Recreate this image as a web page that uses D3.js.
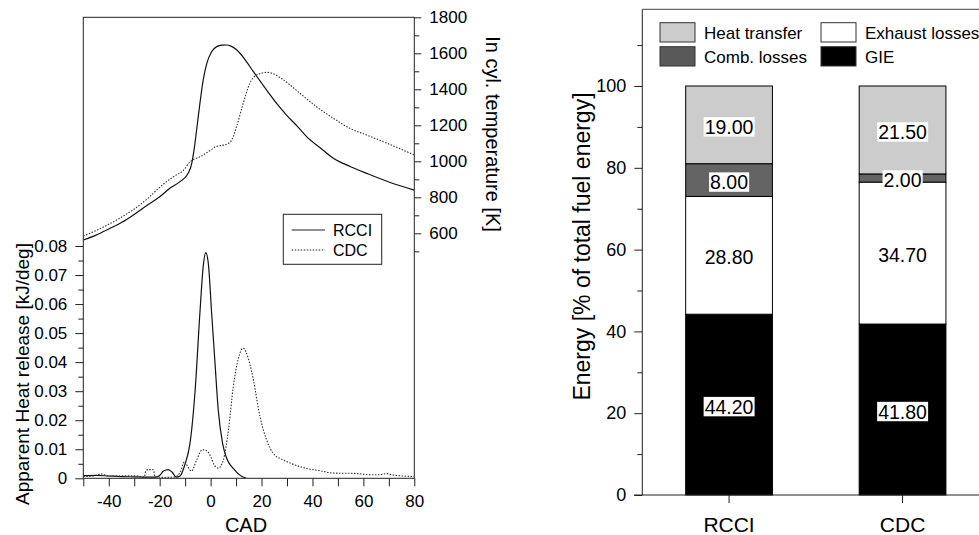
<!DOCTYPE html>
<html>
<head>
<meta charset="utf-8">
<script src="https://cdn.jsdelivr.net/npm/d3@7"></script>
<style>
  body { margin: 0; background: #fff; }
  svg { display: block; font-family: "Liberation Sans", Arial, sans-serif; }
</style>
</head>
<body>
<svg id="chart" width="979" height="535"></svg>
<script>
// ---- left panel data: [CAD, value] ----
var rcciTemp = [[-50,563],[-45,590],[-40,624],[-35,660],[-30,705],[-25,755],[-20,803],[-16,850],[-12,887],
  [-8.8,933],[-7.4,989],[-6.5,1063],[-5.5,1174],[-4.2,1322],[-2.9,1452],[-1.5,1544],[0.4,1609],[2.4,1637],
  [4.5,1645],[6.3,1646],[8,1640],[10.3,1618],[13,1575],[16.8,1498],[22,1396],[26,1320],[29.8,1257],[34,1195],
  [37.7,1137],[43,1075],[48.2,1017],[55,970],[61.3,933],[70,885],[80,840]];
var cdcTemp = [[-50,585],[-45,615],[-40,650],[-35,690],[-30,735],[-25,790],[-20,855],[-17,890],[-14,920],
  [-11,945],[-8,998],[-4,1026],[0,1062],[2,1081],[5,1090],[7,1100],[8.3,1118],[10.2,1192],[12.8,1322],
  [15.4,1433],[18,1479],[22,1494],[24,1490],[28.6,1452],[35.1,1378],[41.6,1303],[48.2,1239],[54.7,1183],
  [61.3,1146],[67.8,1109],[74,1072],[80,1035]];
var rcciHrr = [[-50,0.0009],[-45,0.001],[-40,0.0008],[-35,0.0006],[-30,0.0005],[-25,0.0004],[-22,0.0004],
  [-20,0.001],[-18.5,0.0025],[-16.6,0.003],[-15,0.002],[-13.5,0.0004],[-12,0.0008],[-10,0.005],[-8.1,0.012],
  [-6.1,0.030],[-4.2,0.057],[-2.9,0.073],[-1.9,0.0777],[-0.9,0.074],[0.4,0.057],[1.7,0.040],[3,0.0235],
  [4.7,0.012],[6.3,0.0069],[8.9,0.0034],[11.5,0.0011],[14,0]];
var cdcHrr = [[-50,0.0006],[-46,0.0008],[-43,0.0015],[-40,0.0008],[-36,0.0008],[-32,0.0009],[-28,0.0007],
  [-26,0.0004],[-25.5,0.0025],[-24.5,0.003],[-22.5,0.003],[-21.8,0.0005],[-18,0.0003],[-14,0.0005],[-12,0.002],
  [-10.2,0.0058],[-9,0.004],[-7.5,0.0025],[-5.5,0.0063],[-3.3,0.0098],[-1.5,0.0095],[0,0.0075],[1.5,0.0045],
  [3,0.0035],[5,0.0063],[7,0.0166],[8.9,0.0315],[10.9,0.0413],[12.8,0.0448],[14.8,0.0413],[16.8,0.0339],
  [19.4,0.0212],[22,0.0132],[24.6,0.0086],[28.6,0.0063],[32.5,0.0048],[37.7,0.0034],[43,0.0026],[48.2,0.0018],
  [56,0.0017],[61.3,0.0013],[66,0.0012],[69,0.0016],[72,0.0011],[80,0.0006]];

var cadTicks = d3.range(-50, 81, 10);
var hrrTicks = d3.range(0, 0.0801, 0.01);
var hrrMinor = d3.range(0.005, 0.08, 0.01);
var tempTicks = d3.range(600, 1801, 200);
var tempMinor = d3.range(500, 1800, 200);

// ---- right panel data ----
var categories = ["RCCI", "CDC"];
var gie = [44.2, 41.8];
var exhaust = [28.8, 34.7];
var comb = [8.0, 2.0];
var heat = [19.0, 21.5];
var seriesNames = ["GIE", "Exhaust losses", "Comb. losses", "Heat transfer"];
var seriesColors = ["#000000", "#ffffff", "#646464", "#cccccc"];
var energyTicks = d3.range(0, 101, 20);
var energyMinor = d3.range(10, 111, 20);

var svg = d3.select("#chart");

// ================= left panel =================
var L = { left: 83.3, right: 414.3, top: 17.3, bottom: 478.3 };
var x = d3.scaleLinear().domain([-50, 80]).range([L.left, L.right]);
var yH = d3.scaleLinear().domain([0, 0.08]).range([L.bottom, 246]);
var yT = d3.scaleLinear().domain([600, 1800]).range([233.3, 17.3]);

function styleAxis(g, size) {
  g.select(".domain").remove();
  g.selectAll("line").attr("stroke", "#222");
  g.selectAll("text").attr("font-size", size).attr("fill", "#000").attr("font-family", "Liberation Sans, Arial, sans-serif");
}

svg.append("g").attr("transform", "translate(0," + L.bottom + ")")
  .call(d3.axisBottom(x).tickValues(cadTicks).tickSize(8).tickPadding(9)
    .tickFormat(function(d) { return d % 20 === 0 ? String(d) : ""; }))
  .call(styleAxis, 17);

svg.append("g").attr("transform", "translate(" + L.left + ",0)")
  .call(d3.axisLeft(yH).tickValues(hrrTicks).tickSize(8).tickPadding(8)
    .tickFormat(function(d) { return d === 0 ? "0" : d3.format(".2f")(d); }))
  .call(styleAxis, 17);
svg.append("g").attr("transform", "translate(" + L.left + ",0)")
  .call(d3.axisLeft(yH).tickValues(hrrMinor).tickSize(5).tickFormat(""))
  .call(styleAxis, 17);

svg.append("g").attr("transform", "translate(" + L.right + ",0)")
  .call(d3.axisRight(yT).tickValues(tempTicks).tickSize(7).tickPadding(8).tickFormat(d3.format("d")))
  .call(styleAxis, 17);
svg.append("g").attr("transform", "translate(" + L.right + ",0)")
  .call(d3.axisRight(yT).tickValues(tempMinor).tickSize(5).tickFormat(""))
  .call(styleAxis, 17);

svg.append("rect")
  .attr("x", L.left).attr("y", L.top)
  .attr("width", L.right - L.left).attr("height", L.bottom - L.top)
  .attr("fill", "none").attr("stroke", "#222").attr("stroke-width", 1);

svg.append("clipPath").attr("id", "clipL").append("rect")
  .attr("x", L.left).attr("y", L.top)
  .attr("width", L.right - L.left).attr("height", L.bottom - L.top);

var lineT = d3.line().x(function(d) { return x(d[0]); }).y(function(d) { return yT(d[1]); }).curve(d3.curveMonotoneX);
var lineH = d3.line().x(function(d) { return x(d[0]); }).y(function(d) { return yH(d[1]); }).curve(d3.curveMonotoneX);

var curves = svg.append("g").attr("clip-path", "url(#clipL)");
curves.append("path").datum(rcciTemp).attr("d", lineT)
  .attr("fill", "none").attr("stroke", "#111").attr("stroke-width", 1.2);
curves.append("path").datum(cdcTemp).attr("d", lineT)
  .attr("fill", "none").attr("stroke", "#333").attr("stroke-width", 1.1).attr("stroke-dasharray", "1.5,1.5");
curves.append("path").datum(rcciHrr).attr("d", lineH)
  .attr("fill", "none").attr("stroke", "#111").attr("stroke-width", 1.2);
curves.append("path").datum(cdcHrr).attr("d", lineH)
  .attr("fill", "none").attr("stroke", "#333").attr("stroke-width", 1.1).attr("stroke-dasharray", "1.5,1.5");

// legend
var lg = svg.append("g");
lg.append("rect").attr("x", 283.3).attr("y", 214.3).attr("width", 98.4).attr("height", 50)
  .attr("fill", "#fff").attr("stroke", "#222");
[["RCCI", null, 230], ["CDC", "1.5,1.5", 250]].forEach(function(r) {
  lg.append("line").attr("x1", 291.7).attr("x2", 325).attr("y1", r[2]).attr("y2", r[2])
    .attr("stroke", "#222").attr("stroke-width", 1.1).attr("stroke-dasharray", r[1]);
  lg.append("text").attr("x", 333).attr("y", r[2]).attr("dy", "0.36em")
    .attr("font-size", 16).text(r[0]);
});

svg.append("text").attr("x", 246).attr("y", 531.5).attr("text-anchor", "middle")
  .attr("font-size", 20).text("CAD");
svg.append("text").attr("transform", "translate(29,374) rotate(-90)").attr("text-anchor", "middle")
  .attr("font-size", 19).text("Apparent Heat release [kJ/deg]");
svg.append("text").attr("transform", "translate(486,134) rotate(90)").attr("text-anchor", "middle")
  .attr("font-size", 20).text("In cyl. temperature [K]");

// ================= right panel =================
var R = { left: 642.3, top: 9.3, bottom: 495 };
var xb = d3.scaleBand().domain(categories).range([R.left, R.left + 347]).paddingInner(0.5).paddingOuter(0.25);
var yb = d3.scaleLinear().domain([0, 100]).range([R.bottom, 86]);

var table = categories.map(function(c, i) {
  return { cat: c, "GIE": gie[i], "Exhaust losses": exhaust[i], "Comb. losses": comb[i], "Heat transfer": heat[i] };
});
var stacked = d3.stack().keys(seriesNames)(table);

var bars = svg.append("g");
stacked.forEach(function(layer, k) {
  bars.selectAll(null).data(layer).enter().append("rect")
    .attr("x", function(d) { return xb(d.data.cat); })
    .attr("y", function(d) { return yb(d[1]); })
    .attr("width", xb.bandwidth())
    .attr("height", function(d) { return yb(d[0]) - yb(d[1]); })
    .attr("fill", seriesColors[k]).attr("stroke", "#000").attr("stroke-width", 1);
});

// value labels on white boxes
stacked.forEach(function(layer) {
  layer.forEach(function(d) {
    var val = d[1] - d[0];
    var cx = xb(d.data.cat) + xb.bandwidth() / 2;
    var cy = yb((d[0] + d[1]) / 2) + 2;
    var g = svg.append("g");
    var t = g.append("text").attr("x", cx).attr("y", cy).attr("dy", "0.36em")
      .attr("text-anchor", "middle").attr("font-size", 19.5).text(val.toFixed(2));
    var bb = t.node().getBBox();
    g.insert("rect", "text").attr("x", bb.x - 1).attr("y", cy - 9.7)
      .attr("width", bb.width + 2).attr("height", 19.4).attr("fill", "#fff");
  });
});

svg.append("g").attr("transform", "translate(" + R.left + ",0)")
  .call(d3.axisLeft(yb).tickValues(energyTicks).tickSize(8).tickPadding(8))
  .call(styleAxis, 18);
svg.append("g").attr("transform", "translate(" + R.left + ",0)")
  .call(d3.axisLeft(yb).tickValues(energyMinor).tickSize(5).tickFormat(""))
  .call(styleAxis, 18);
svg.append("g").attr("transform", "translate(0," + R.bottom + ")")
  .call(d3.axisBottom(xb).tickSize(8).tickPadding(14))
  .call(styleAxis, 21);

svg.append("line").attr("x1", R.left).attr("x2", R.left).attr("y1", R.top).attr("y2", R.bottom)
  .attr("stroke", "#222");
svg.append("line").attr("x1", R.left).attr("x2", 979).attr("y1", R.top).attr("y2", R.top)
  .attr("stroke", "#444");
svg.append("line").attr("x1", 634).attr("x2", 979).attr("y1", R.bottom).attr("y2", R.bottom)
  .attr("stroke", "#222");

// legend
var legendItems = [
  { name: "Heat transfer", color: "#cccccc", x: 660, y: 22.7 },
  { name: "Exhaust losses", color: "#ffffff", x: 821, y: 22.7 },
  { name: "Comb. losses", color: "#595959", x: 660, y: 46.7 },
  { name: "GIE", color: "#000000", x: 821, y: 46.7 }
];
legendItems.forEach(function(it) {
  svg.append("rect").attr("x", it.x).attr("y", it.y).attr("width", 35).attr("height", 19.3)
    .attr("fill", it.color).attr("stroke", "#333");
  svg.append("text").attr("x", it.x + 44).attr("y", it.y + 9.8).attr("dy", "0.36em")
    .attr("font-size", 17).text(it.name);
});

svg.append("text").attr("transform", "translate(590,246.5) rotate(-90)").attr("text-anchor", "middle")
  .attr("font-size", 23).text("Energy [% of total fuel energy]");
</script>
</body>
</html>
